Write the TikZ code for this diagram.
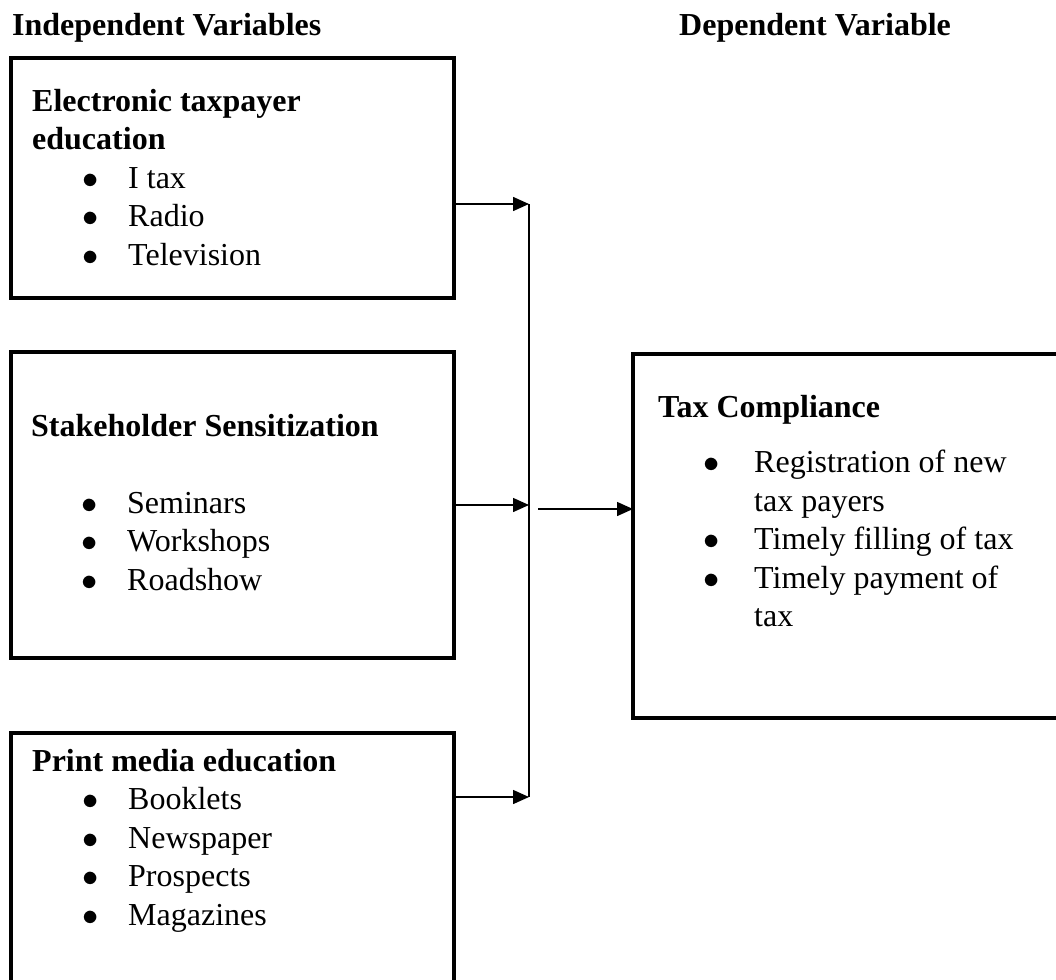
\documentclass[tikz,border=0pt]{standalone}
\usepackage{fontspec}
\setmainfont{Liberation Serif}
\usetikzlibrary{positioning,arrows.meta}

\newcommand{\bul}[1][50pt]{\hspace*{#1}\makebox[\dimexpr96pt-#1\relax][l]{\scalebox{1.3}{$\bullet$}}}
\newcommand{\cont}{\hspace*{96pt}}

\begin{document}
\begin{tikzpicture}[x=1pt, y=-1pt,
                    frame/.style={draw, line width=4pt, anchor=north west, inner sep=0, outer sep=0, minimum width=443pt},
                    txt/.style={align=left, inner sep=0, font=\fontsize{32}{38.5}\selectfont},
                    head/.style={anchor=base west, inner sep=0, font=\fontsize{32}{38.5}\selectfont\bfseries},
                    link/.style={line width=1.5pt, -{Triangle[length=16pt, width=14pt]}},
                ]
                \useasboundingbox (0,0) rectangle (1056,979);
                \clip (0,0) rectangle (1056,979);
                %Headings
                \node[head] (iv) at (12,36)  {Independent Variables};
                \node[head] (dv) at (679,36) {Dependent Variable};
                %Boxes
                \node[frame, minimum height=240pt] (ete) at (11,58)  {};
                \node[frame, minimum height=306pt] (ss)  at (11,352) {};
                \node[frame, minimum height=290pt] (pme) at (11,733) {};
                \node[frame, minimum width=437pt, minimum height=364pt] (tc) at (633,354) {};
                %Texts
                \node[txt] (etet) [below right=31pt and 21pt of ete.north west]
                    {\textbf{Electronic taxpayer}\\ \textbf{education}\\ \bul I tax\\ \bul Radio\\ \bul Television};
                \node[txt] (sst) [below right=62pt and 20pt of ss.north west]
                    {\textbf{Stakeholder Sensitization}\\ ~\\ \bul Seminars\\ \bul Workshops\\ \bul Roadshow};
                \node[txt] (pmet) [below right=16pt and 21pt of pme.north west]
                    {\textbf{Print media education}\\ \bul Booklets\\ \bul Newspaper\\ \bul Prospects\\ \bul Magazines};
                \node[txt] (tct) [below right=41pt and 25pt of tc.north west]
                    {\textbf{Tax Compliance}\\[17pt] \bul[45pt]Registration of new\\ \cont tax payers\\ \bul[45pt]Timely filling of tax\\ \bul[45pt]Timely payment of\\ \cont tax};
                %Arrows
                \coordinate (j1) at (529,204);
                \coordinate (j2) at (529,505);
                \coordinate (j3) at (529,797);
                \draw[link] ([yshift=-26pt]ete.east) -- (j1);
                \draw[link] (ss.east) -- (j2);
                \draw[link] ([yshift=-64pt]pme.north east) -- (j3);
                \draw[line width=1.5pt] (j1) -- (j3);
                \draw[link] ([xshift=9pt, yshift=-4pt]j2) -- ([yshift=-4pt]tc.west |- j2);
\end{tikzpicture}
\end{document}
